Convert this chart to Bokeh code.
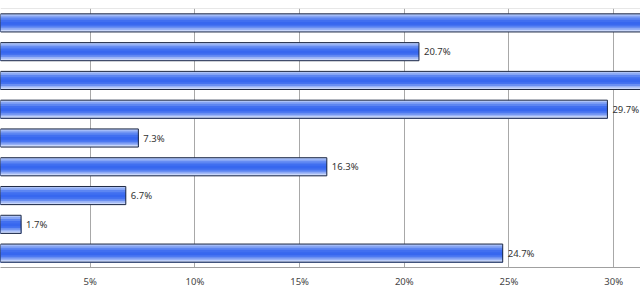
from bokeh.plotting import figure
from bokeh.models import Range1d, FixedTicker, PrintfTickFormatter, Span
from bokeh.core.properties import value
from bokeh.embed import file_html
from bokeh.resources import INLINE

# Data (category names are cropped out of the reference)
categories = ["Item 1", "Item 2", "Item 3", "Item 4", "Item 5",
              "Item 6", "Item 7", "Item 8", "Item 9"]
percent = [33.0, 20.7, 35.0, 29.7, 7.3, 16.3, 6.7, 1.7, 24.7]
tick_values = [5, 10, 15, 20, 25, 30]

X_START = 0.716
X_END = 31.28
BAR_H = 0.63

p = figure(frame_width=640, frame_height=259, output_backend="svg", toolbar_location=None,
           x_range=Range1d(X_START, X_END), y_range=Range1d(len(categories) - 0.5, -0.5),
           min_border_left=0, min_border_right=0, min_border_top=8, min_border_bottom=34)
p.outline_line_color = None
p.background_fill_color = "white"
p.border_fill_color = "white"

ys = list(range(len(categories)))

# gradient (top -> bottom) as stacked strips, each running to the bar bottom
stops = [(0.00, "#adc3f8"), (0.10, "#86a5f5"), (0.20, "#5d86f2"), (0.32, "#416ff0"),
         (0.45, "#3767ef"), (0.60, "#4572f0"), (0.70, "#6a8ff2"), (0.80, "#98b2f6"),
         (0.89, "#c9d7fa")]
for t, col in stops:
    top = [y - BAR_H / 2 + t * BAR_H for y in ys]
    bot = [y + BAR_H / 2 for y in ys]
    p.quad(left=0, right=percent, top=top, bottom=bot, fill_color=col, line_color=None)

# outline
p.hbar(y=ys, right=percent, left=0, height=BAR_H, fill_color=None,
       line_color="#1f2a44", line_width=1)

# value labels (only those inside the visible area)
lab_x = [v for v in percent if v < X_END - 1.2]
lab_y = [y for y, v in zip(ys, percent) if v < X_END - 1.2]
lab_t = ["%.1f%%" % v for v in lab_x]
p.text(x=lab_x, y=lab_y, text=lab_t, x_offset=5, text_baseline="middle",
       text_align="left", text_font=value("Noto Sans"), text_font_size="9.5px",
       text_color="#333333")

# axes
p.yaxis.visible = False
p.xaxis.ticker = FixedTicker(ticks=tick_values)
p.xaxis.formatter = PrintfTickFormatter(format="%d%%")
p.xaxis.major_tick_line_color = None
p.xaxis.minor_tick_line_color = None
p.xaxis.major_tick_out = 0
p.xaxis.major_tick_in = 0
p.xaxis.axis_line_color = "#a0a0a0"
p.xaxis.major_label_text_font = "Noto Sans"
p.xaxis.major_label_text_font_size = "9.5px"
p.xaxis.major_label_text_color = "#444444"
p.xaxis.major_label_standoff = 7

p.xgrid.ticker = FixedTicker(ticks=tick_values)
p.xgrid.grid_line_color = "#a8a8a8"
p.ygrid.grid_line_color = None

p.add_layout(Span(location=-0.5, dimension="width", line_color="#d0d0d0", line_width=1))

open("out.html", "w").write(file_html(p, INLINE))
